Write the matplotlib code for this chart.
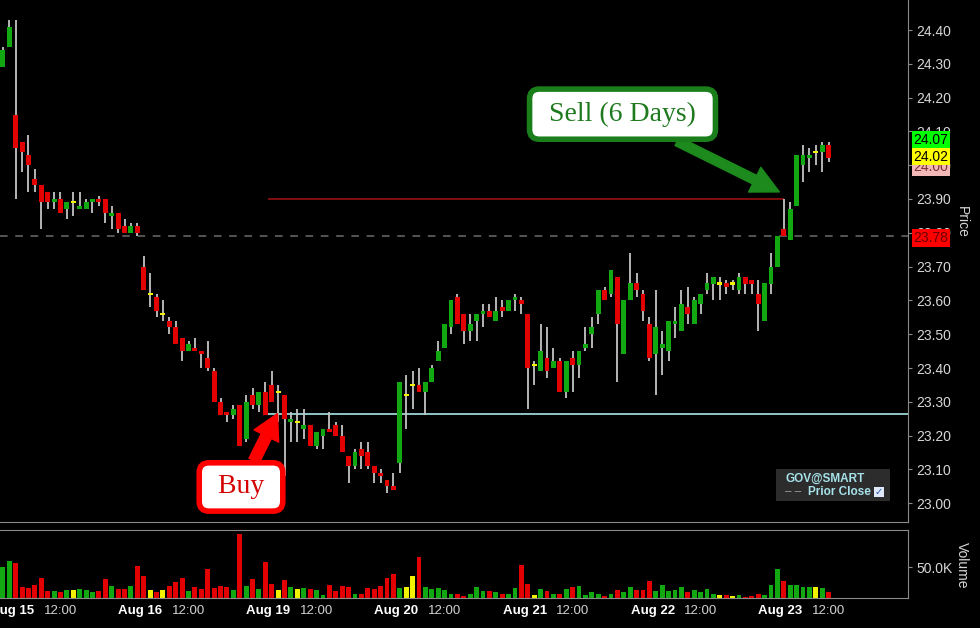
import matplotlib.pyplot as plt
from matplotlib.patches import Rectangle
import numpy as np

plt.rcParams['font.family'] = ['Liberation Sans', 'DejaVu Sans']

# 20-minute bars; first two belong to the previous session (Aug 14)
opens = [24.29, 24.35,
         24.15, 24.07, 24.03, 23.96, 23.94, 23.92, 23.89, 23.90, 23.87, 23.89, 23.87, 23.87, 23.89, 23.90, 23.90, 23.85, 23.86, 23.82, 23.80, 23.82,
         23.70, 23.62, 23.61, 23.56, 23.54, 23.52, 23.49, 23.45, 23.46, 23.45, 23.43, 23.39, 23.30, 23.27, 23.26, 23.29, 23.19, 23.32, 23.29, 23.33,
         23.35, 23.33, 23.32, 23.24, 23.24, 23.22, 23.23, 23.17, 23.20, 23.22, 23.23, 23.20, 23.14, 23.11, 23.16, 23.15, 23.11, 23.09, 23.07, 23.05,
         23.12, 23.32, 23.35, 23.35, 23.33, 23.36, 23.42, 23.46, 23.52, 23.61, 23.56, 23.51, 23.54, 23.56, 23.57, 23.54, 23.58, 23.57, 23.60, 23.60,
         23.56, 23.41, 23.39, 23.43, 23.40, 23.42, 23.33, 23.43, 23.41, 23.46, 23.50, 23.56, 23.63, 23.62, 23.67, 23.44, 23.60, 23.65, 23.62, 23.53,
         23.44, 23.46, 23.45, 23.53, 23.51, 23.58, 23.53, 23.59, 23.63, 23.65, 23.65, 23.65, 23.65, 23.63, 23.67, 23.66, 23.62, 23.54, 23.65, 23.70,
         23.81, 23.78, 23.88, 24.00, 24.02, 24.04, 24.04, 24.06]
highs = [24.35, 24.43,
         24.43, 24.07, 24.09, 23.99, 23.94, 23.92, 23.92, 23.92, 23.89, 23.92, 23.92, 23.90, 23.90, 23.91, 23.90, 23.88, 23.86, 23.84, 23.83, 23.83,
         23.73, 23.68, 23.62, 23.60, 23.55, 23.54, 23.49, 23.48, 23.49, 23.45, 23.48, 23.40, 23.31, 23.27, 23.29, 23.29, 23.32, 23.34, 23.33, 23.36,
         23.39, 23.35, 23.32, 23.27, 23.28, 23.28, 23.23, 23.21, 23.22, 23.27, 23.24, 23.23, 23.14, 23.16, 23.18, 23.18, 23.11, 23.10, 23.07, 23.09,
         23.36, 23.38, 23.39, 23.40, 23.36, 23.41, 23.48, 23.53, 23.60, 23.62, 23.56, 23.56, 23.56, 23.59, 23.59, 23.61, 23.60, 23.60, 23.62, 23.61,
         23.56, 23.42, 23.53, 23.52, 23.46, 23.43, 23.42, 23.45, 23.45, 23.52, 23.55, 23.63, 23.64, 23.69, 23.67, 23.60, 23.74, 23.68, 23.63, 23.55,
         23.63, 23.51, 23.54, 23.58, 23.63, 23.64, 23.61, 23.62, 23.68, 23.67, 23.67, 23.66, 23.66, 23.68, 23.67, 23.66, 23.66, 23.65, 23.74, 23.79,
         23.90, 23.89, 24.03, 24.06, 24.05, 24.06, 24.07, 24.07]
lows = [24.29, 24.35,
        23.90, 23.98, 23.92, 23.92, 23.81, 23.87, 23.87, 23.86, 23.84, 23.85, 23.87, 23.87, 23.86, 23.88, 23.83, 23.81, 23.80, 23.80, 23.80, 23.79,
        23.63, 23.58, 23.55, 23.54, 23.50, 23.47, 23.42, 23.45, 23.45, 23.40, 23.39, 23.30, 23.26, 23.24, 23.25, 23.17, 23.18, 23.28, 23.27, 23.26,
        23.30, 23.24, 23.08, 23.18, 23.18, 23.19, 23.17, 23.16, 23.16, 23.21, 23.20, 23.15, 23.06, 23.10, 23.10, 23.10, 23.06, 23.06, 23.03, 23.04,
        23.09, 23.22, 23.28, 23.33, 23.26, 23.36, 23.42, 23.46, 23.50, 23.53, 23.47, 23.48, 23.48, 23.52, 23.55, 23.54, 23.55, 23.57, 23.57, 23.56,
        23.28, 23.35, 23.39, 23.37, 23.40, 23.33, 23.31, 23.33, 23.37, 23.45, 23.46, 23.53, 23.60, 23.61, 23.36, 23.44, 23.60, 23.61, 23.54, 23.42,
        23.32, 23.38, 23.42, 23.49, 23.51, 23.53, 23.53, 23.56, 23.62, 23.60, 23.60, 23.62, 23.63, 23.62, 23.62, 23.62, 23.51, 23.54, 23.62, 23.70,
        23.79, 23.78, 23.88, 23.95, 23.98, 24.00, 23.98, 24.01]
closes = [24.34, 24.41,
          24.05, 24.04, 24.00, 23.94, 23.89, 23.89, 23.90, 23.86, 23.89, 23.89, 23.88, 23.89, 23.90, 23.89, 23.86, 23.86, 23.81, 23.80, 23.82, 23.80,
          23.63, 23.62, 23.57, 23.56, 23.52, 23.47, 23.45, 23.47, 23.45, 23.44, 23.40, 23.30, 23.26, 23.26, 23.28, 23.17, 23.30, 23.29, 23.33, 23.26,
          23.30, 23.33, 23.25, 23.25, 23.24, 23.23, 23.17, 23.21, 23.22, 23.21, 23.20, 23.15, 23.11, 23.15, 23.14, 23.11, 23.09, 23.08, 23.05, 23.04,
          23.36, 23.32, 23.35, 23.33, 23.36, 23.40, 23.45, 23.53, 23.60, 23.53, 23.51, 23.53, 23.56, 23.57, 23.55, 23.57, 23.57, 23.60, 23.61, 23.59,
          23.40, 23.41, 23.45, 23.39, 23.42, 23.33, 23.42, 23.41, 23.45, 23.47, 23.52, 23.63, 23.60, 23.69, 23.53, 23.60, 23.65, 23.63, 23.57, 23.43,
          23.52, 23.47, 23.54, 23.54, 23.59, 23.56, 23.60, 23.62, 23.65, 23.67, 23.65, 23.64, 23.65, 23.67, 23.65, 23.65, 23.59, 23.65, 23.70, 23.79,
          23.79, 23.87, 24.03, 24.03, 24.03, 24.04, 24.06, 24.02]
# volume in thousands of shares
volumes = [50, 60,
           56, 17, 16, 21, 32, 11, 11, 9, 13, 13, 14, 13, 9, 11, 31, 20, 14, 14, 20, 51,
           36, 13, 9, 13, 20, 26, 32, 11, 18, 14, 46, 16, 20, 18, 13, 104, 20, 31, 14, 58,
           22, 13, 29, 18, 14, 16, 14, 13, 5, 21, 11, 20, 18, 7, 7, 16, 14, 20, 32, 39,
           16, 18, 36, 66, 18, 14, 16, 13, 7, 7, 4, 7, 17, 11, 11, 9, 7, 7, 16, 54,
           22, 5, 14, 11, 7, 7, 14, 18, 20, 5, 9, 7, 4, 7, 13, 9, 18, 13, 13, 27,
           12, 21, 12, 13, 18, 9, 13, 9, 14, 7, 5, 5, 4, 5, 2, 4, 7, 5, 21, 47,
           27, 21, 21, 18, 17, 18, 16, 9]

day_labels = ['Aug 15', 'Aug 16', 'Aug 19', 'Aug 20', 'Aug 21', 'Aug 22', 'Aug 23']
price_ticks = [23.0, 23.1, 23.2, 23.3, 23.4, 23.5, 23.6, 23.7, 23.8, 23.9, 24.0, 24.1, 24.2, 24.3, 24.4]
prior_close = 23.79
buy_level = 23.265
sell_level = 23.90

GREEN, RED, YELLOW, WICK = '#12a812', '#e30000', '#f2f200', '#c4c4c4'
W, H = 980, 628


def rect(x0, y0, x1, y1):
    return [x0 / W, 1 - y1 / H, (x1 - x0) / W, (y1 - y0) / H]


def fpx(x, y):
    return x / W, 1 - y / H


o, h, l, c = (np.array(a) for a in (opens, highs, lows, closes))
x = np.arange(len(o)) - 2
colors = np.where(c > o, GREEN, np.where(c < o, RED, YELLOW))

fig = plt.figure(figsize=(W / 100, H / 100), dpi=100, facecolor='black')
ax = fig.add_axes(rect(0, 0, 908, 522))
axv = fig.add_axes(rect(0, 530, 908, 598), sharex=ax)
for a in (ax, axv):
    a.set_facecolor('black')
    for s in ('top', 'left'):
        a.spines[s].set_visible(False)
    for s in ('right', 'bottom'):
        a.spines[s].set_color('#8a8a8a')
axv.spines['top'].set_visible(True)
axv.spines['top'].set_color('#8a8a8a')

# candles
ax.vlines(x, l, h, color=WICK, lw=1.3, zorder=2)
body = np.maximum(np.abs(c - o), 0.006)
bottom = np.where(c == o, o - 0.003, np.minimum(o, c))
ax.bar(x, body, width=0.76, bottom=bottom, color=colors, lw=0, zorder=3)

ax.axhline(prior_close, color='#6c6c6c', lw=1.1, dashes=(5, 5), zorder=1)
ax.hlines(sell_level, 39.4, 120.0, color='#a51010', lw=1.1, zorder=1)
ax.hlines(buy_level, 39.0, 140, color='#a8e6ea', lw=1.2, zorder=1)

ax.set_xlim(-2.45, 139.4)
ax.set_ylim(24.40 - 492 / 338, 24.40 + 30 / 338)
ax.yaxis.tick_right()
ax.set_yticks(price_ticks)
ax.set_yticklabels([f'{t:.2f}' for t in price_ticks])
ax.tick_params(axis='y', colors='#8a8a8a', labelcolor='#d6d6d6', labelsize=10, length=3, pad=3)
ax.tick_params(axis='x', bottom=False, labelbottom=False)

# volume
axv.bar(x, np.array(volumes) * 1000, width=0.76, color=colors, lw=0)
axv.set_ylim(0, 68 * 1613)
axv.yaxis.tick_right()
axv.set_yticks([50000])
axv.set_yticklabels(['50.0K'])
axv.tick_params(axis='y', colors='#8a8a8a', labelcolor='#d6d6d6', labelsize=10, length=3, pad=3)
day_pos = [20 * d - 0.5 for d in range(len(day_labels))]
noon_pos = [20 * d + 7 for d in range(len(day_labels))]
axv.set_xticks(day_pos + noon_pos)
axv.set_xticklabels(day_labels + ['12:00'] * len(noon_pos))
axv.tick_params(axis='x', length=0, pad=5, labelsize=9.5)
for i, t in enumerate(axv.get_xticklabels()):
    if i < len(day_labels):
        t.set_color('white')
        t.set_fontweight('bold')
    else:
        t.set_color('#d2d2d2')

# price flags on the axis
yt = ax.get_yaxis_transform()
flags = [(24.075, '24.07', '#00ff00', 'black'), (23.995, '24.00', '#f2b8b8', '#7a3030'),
         (24.025, '24.02', '#ffff00', 'black'), (23.785, '23.78', '#ff0000', '#6a0000')]
for yv, txt, fc, tc in flags:
    ax.text(1.006, yv, txt, transform=yt, ha='left', va='center', fontsize=10, color=tc,
            bbox=dict(boxstyle='square,pad=0.12', fc=fc, ec='none'), clip_on=False, zorder=6)

fig.text(*fpx(962, 222), 'Price', rotation=270, ha='center', va='center', color='#d6d6d6', fontsize=10)
fig.text(*fpx(962, 565), 'Volume', rotation=270, ha='center', va='center', color='#d6d6d6', fontsize=10)

# legend box
fig.patches.append(Rectangle(fpx(776, 501), 114 / W, 32 / H, transform=fig.transFigure,
                             fc='#2c2c2c', ec='none', zorder=1))
fig.text(*fpx(785, 479), 'GOV@SMART', ha='left', va='center', color='#a6e2ea',
         fontsize=8.5, fontweight='bold', zorder=2)
fig.text(*fpx(785, 492), '‒ ‒', ha='left', va='center', color='#9a9a9a', fontsize=8.5, zorder=2)
fig.text(*fpx(808, 492), 'Prior Close', ha='left', va='center', color='#a6e2ea',
         fontsize=8.5, fontweight='bold', zorder=2)
fig.patches.append(Rectangle(fpx(874, 497), 10 / W, 10 / H, transform=fig.transFigure,
                             fc='#dfe9fb', ec='none', zorder=2))
fig.text(*fpx(879, 492), '✓', ha='center', va='center', color='#2050b0', fontsize=7,
         fontweight='bold', family=['DejaVu Sans'], zorder=3)

# trade annotations
ax.annotate(' Buy ', xy=(40.9, buy_level), xytext=(35.2, 23.048), ha='center', va='center',
            fontsize=20, color='#d40000', family=['Liberation Serif', 'DejaVu Serif'], zorder=7,
            bbox=dict(boxstyle='round,pad=0.42,rounding_size=0.35', fc='white', ec='#ff0000', lw=4),
            arrowprops=dict(arrowstyle='simple,head_length=1.0,head_width=1.1,tail_width=0.45',
                            fc='#ff0000', ec='#ff0000', mutation_scale=18, shrinkA=0, shrinkB=0))
ax.annotate(' Sell (6 Days) ', xy=(119.3, 23.921), xytext=(94.8, 24.151), ha='center', va='center',
            fontsize=20, color='#1f7a1f', family=['Liberation Serif', 'DejaVu Serif'], zorder=7,
            bbox=dict(boxstyle='round,pad=0.45,rounding_size=0.35', fc='white', ec='#1a7f1a', lw=4),
            arrowprops=dict(arrowstyle='simple,head_length=1.1,head_width=1.1,tail_width=0.38',
                            fc='#1c8a1c', ec='#1c8a1c', mutation_scale=18, shrinkA=0, shrinkB=0))

fig.savefig('out.png', dpi=100, facecolor='black')
